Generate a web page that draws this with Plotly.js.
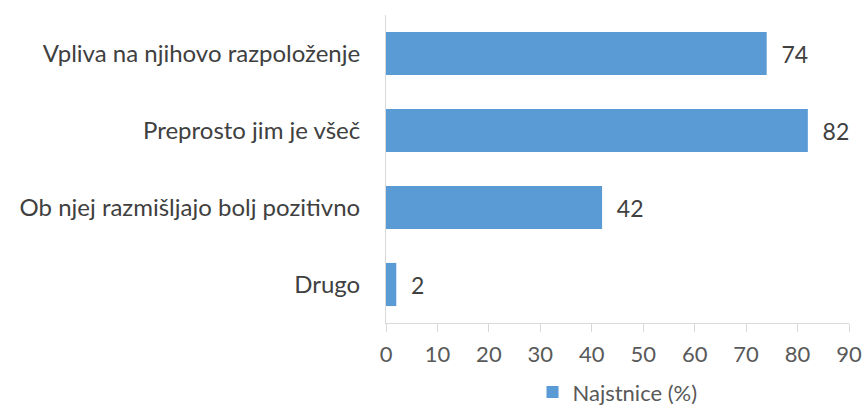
<!DOCTYPE html>
<html>
<head>
<meta charset="utf-8">
<script src="https://cdn.plot.ly/plotly-3.0.1.min.js"></script>
<style>
  html, body { margin: 0; padding: 0; background: #fff; }
  #chart { width: 866px; height: 412px; }
</style>
</head>
<body>
<div id="chart"></div>
<script>
// categories listed top to bottom, as in the picture
let categories = [
    "Vpliva na njihovo razpoloženje",
    "Preprosto jim je všeč",
    "Ob njej razmišljajo bolj pozitivno",
    "Drugo"
];
let values = [74, 82, 42, 2];
let seriesName = "Najstnice (%)";
let xTicks = [0, 10, 20, 30, 40, 50, 60, 70, 80, 90];

let trace = {
    type: "bar",
    orientation: "h",
    name: seriesName,
    y: categories,
    x: values,
    // a little gap between bar end and label, like the original
    text: values.map(v => "\u00a0\u00a0" + v),
    textposition: "outside",
    cliponaxis: false,
    textfont: {
        color: "#404040",
        size: 23
    },
    marker: {
        color: "#5b9bd5"
    },
    width: 0.56,
    showlegend: true
};

let layout = {
    width: 866,
    height: 412,
    margin: { l: 386, r: 17, t: 15, b: 89, autoexpand: false },
    font: { family: "Lato, 'Open Sans', sans-serif", color: "#595959", size: 22 },
    paper_bgcolor: "#ffffff",
    plot_bgcolor: "#ffffff",
    xaxis: {
        range: [0, 90],
        tickvals: xTicks,
        showgrid: false,
        zeroline: false,
        showline: true,
        linecolor: "#d9d9d9",
        linewidth: 1,
        ticks: "outside",
        ticklen: 8,
        tickcolor: "#d9d9d9",
        ticklabelstandoff: 4,
        tickfont: { size: 22, color: "#595959" },
        fixedrange: true
    },
    yaxis: {
        autorange: "reversed",
        showgrid: false,
        zeroline: false,
        showline: true,
        linecolor: "#d9d9d9",
        linewidth: 1,
        ticks: "",
        ticklabelstandoff: 20,
        tickfont: { size: 24, color: "#404040" },
        fixedrange: true
    },
    showlegend: true,
    legend: {
        orientation: "h",
        x: 0.5,
        xanchor: "center",
        y: -0.225,
        yanchor: "middle",
        font: { size: 22, color: "#595959" }
    },
    bargap: 0.44
};

Plotly.newPlot("chart", [trace], layout, { displayModeBar: false, staticPlot: true });
</script>
</body>
</html>
